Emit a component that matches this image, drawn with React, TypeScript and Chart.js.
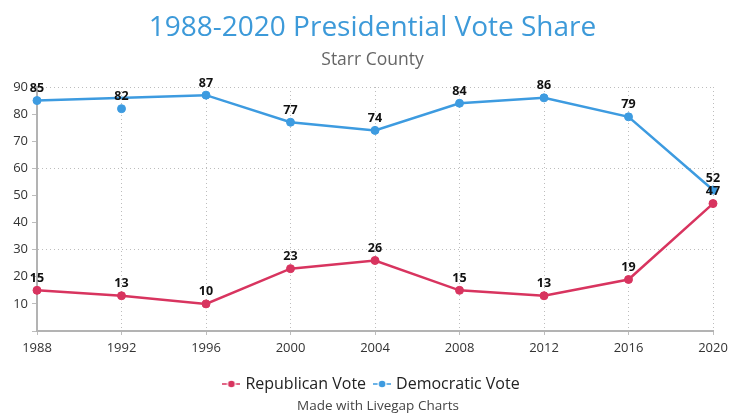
import React, { useEffect, useRef } from "react";
import { Chart, registerables } from "chart.js";

Chart.register(...registerables);

const years = ["1988", "1992", "1996", "2000", "2004", "2008", "2012", "2016", "2020"];
const republicanVote = [15, 13, 10, 23, 26, 15, 13, 19, 47];
const democraticVote = [85, 82, 87, 77, 74, 84, 86, 79, 52];
// years whose Democratic point is drawn off the line (the line spans across them)
const democraticOffLine = ["1992"];
const yTicks = [0, 10, 20, 30, 40, 50, 60, 70, 80, 90];
const yGridValues = [30, 60, 90];

const RED = "#d8345f";
const BLUE = "#3d9be0";
const FONT = "'Open Sans', 'Noto Sans', sans-serif";

function makeMarker(color: string) {
  const c = document.createElement("canvas");
  c.width = 18;
  c.height = 10;
  const g = c.getContext("2d")!;
  g.strokeStyle = color;
  g.lineWidth = 1.5;
  g.beginPath();
  g.moveTo(0, 5);
  g.lineTo(4.5, 5);
  g.moveTo(13.5, 5);
  g.lineTo(18, 5);
  g.stroke();
  g.fillStyle = color;
  g.beginPath();
  g.arc(9, 5, 3.3, 0, Math.PI * 2);
  g.fill();
  return c;
}

const valueLabels = {
  id: "valueLabels",
  afterDatasetsDraw(chart: any) {
    const ctx = chart.ctx;
    ctx.save();
    ctx.font = `bold 12.5px ${FONT}`;
    ctx.fillStyle = "#111";
    ctx.textAlign = "center";
    ctx.textBaseline = "middle";
    chart.data.datasets.forEach((ds: any, i: number) => {
      if (!chart.isDatasetVisible(i)) return;
      const meta = chart.getDatasetMeta(i);
      meta.data.forEach((el: any, j: number) => {
        const v = ds.data[j];
        if (v === null || v === undefined) return;
        ctx.fillText(String(v), el.x, el.y - 12);
      });
    });
    ctx.restore();
  },
};

export default function App() {
  const ref = useRef<HTMLCanvasElement | null>(null);

  useEffect(() => {
    document.body.style.marginRight = "0px";
    if (!ref.current) return;
    const markers = [makeMarker(RED), makeMarker(BLUE)];
    const demLine = democraticVote.map((v, i) => (democraticOffLine.includes(years[i]) ? null : v));
    const demOff = democraticVote.map((v, i) => (democraticOffLine.includes(years[i]) ? v : null));

    const chart = new Chart(ref.current, {
      type: "line",
      data: {
        labels: years,
        datasets: [
          {
            label: "Republican Vote",
            data: republicanVote,
            borderColor: RED,
            backgroundColor: RED,
            pointBackgroundColor: RED,
            pointBorderColor: RED,
            borderWidth: 2.5,
            pointRadius: 4,
            pointBorderWidth: 1,
            fill: false,
          },
          {
            label: "Democratic Vote",
            data: demLine,
            spanGaps: true,
            borderColor: BLUE,
            backgroundColor: BLUE,
            pointBackgroundColor: BLUE,
            pointBorderColor: BLUE,
            borderWidth: 2.5,
            pointRadius: 4,
            pointBorderWidth: 1,
            fill: false,
          },
          {
            label: "Democratic Vote (off line)",
            data: demOff,
            showLine: false,
            borderColor: BLUE,
            backgroundColor: BLUE,
            pointBackgroundColor: BLUE,
            pointBorderColor: BLUE,
            pointRadius: 4,
            pointBorderWidth: 1,
          },
        ],
      } as any,
      options: {
        animation: false,
        responsive: true,
        maintainAspectRatio: false,
        layout: { padding: { left: 8, right: 0, top: 0, bottom: 0 } },
        scales: {
          x: {
            type: "category",
            offset: false,
            grid: {
              color: "#bdbdbd",
              lineWidth: 1,
              tickColor: "#bdbdbd",
              tickLength: 4,
            },
            border: { display: true, color: "#b3b3b3", width: 2, dash: [1, 3] },
            ticks: {
              color: "#333",
              font: { family: FONT, size: 13 },
              padding: 5,
              maxRotation: 0,
              autoSkip: false,
            },
            afterFit: (axis: any) => {
              axis.paddingRight = 16;
              axis.height += 5.4;
              axis._computeLabelArea = () => undefined;
            },
          },
          y: {
            min: 0,
            max: 90,
            afterBuildTicks: (axis: any) => {
              axis.ticks = yTicks.map((v) => ({ value: v }));
            },
            grid: {
              color: (ctx: any) => (yGridValues.includes(ctx.tick?.value) ? "#bdbdbd" : "rgba(0,0,0,0)"),
              lineWidth: 1,
              tickColor: "#bdbdbd",
              tickLength: 5,
            },
            border: { display: true, color: "#b3b3b3", width: 2, dash: [1, 3] },
            ticks: {
              color: "#333",
              font: { family: FONT, size: 13 },
              padding: 4,
              callback: (v: any) => (v === 0 ? "" : String(v)),
            },
            afterFit: (axis: any) => {
              axis.width = 21;
              axis._computeLabelArea = () => undefined;
            },
          },
        },
        plugins: {
          title: {
            display: true,
            text: "1988-2020 Presidential Vote Share",
            color: "#3d9ad9",
            font: { family: FONT, size: 28, weight: "normal" },
            padding: { top: 3.2, bottom: 2 },
          },
          subtitle: {
            display: true,
            text: "Starr County",
            color: "#666",
            font: { family: FONT, size: 17.5, weight: "normal" },
            padding: { top: 2.7, bottom: 16.5 },
          },
          legend: {
            display: true,
            position: "bottom",
            labels: {
              usePointStyle: true,
              pointStyleWidth: 12,
              color: "#222",
              font: { family: FONT, size: 16 },
              padding: 10,
              generateLabels: (c: any) =>
                Chart.defaults.plugins.legend.labels
                  .generateLabels(c)
                  .filter((l: any) => l.datasetIndex < 2)
                  .map((l: any) => ({ ...l, pointStyle: markers[l.datasetIndex] })),
            },
          },
          tooltip: { enabled: false },
        },
      } as any,
      plugins: [valueLabels],
    });
    return () => chart.destroy();
  }, []);

  return (
    <div style={{ position: "relative", width: 721, height: 406 }}>
      <div style={{ position: "relative", width: 721, height: 394 }}>
        <canvas ref={ref} />
      </div>
      <div
        style={{
          position: "absolute",
          top: 389,
          left: 0,
          width: 740,
          textAlign: "center",
          fontFamily: FONT,
          fontSize: 13.5,
          lineHeight: "16px",
          color: "#444",
        }}
      >
        Made with Livegap Charts
      </div>
    </div>
  );
}
